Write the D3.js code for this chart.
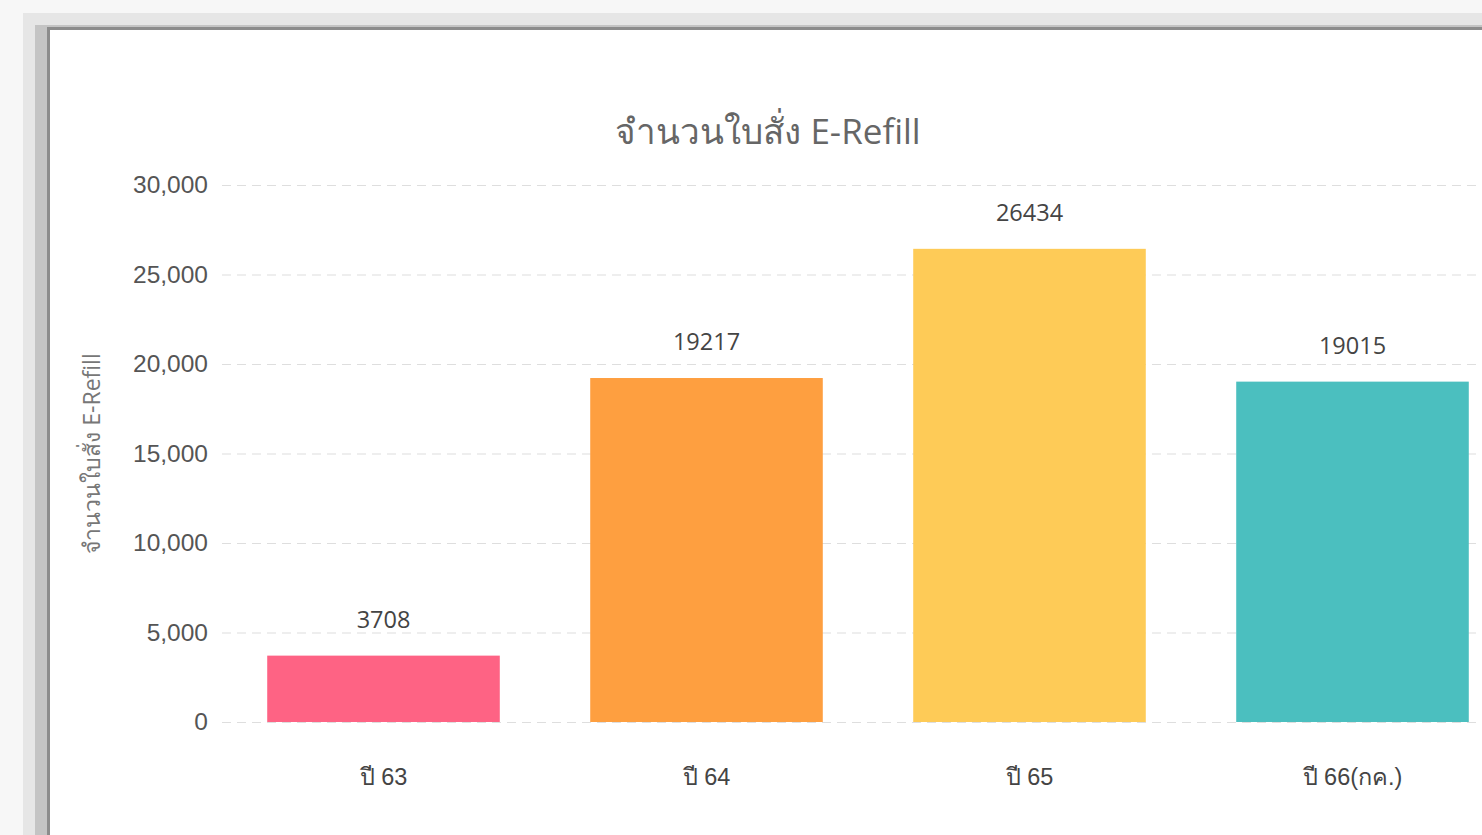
<!DOCTYPE html>
<html>
<head>
<meta charset="utf-8">
<script src="https://cdn.jsdelivr.net/npm/d3@7"></script>
<style>
  html, body { margin: 0; padding: 0; background: #f7f7f7; overflow: hidden; }
  svg { display: block; font-family: "Open Sans", "Noto Sans", sans-serif; }
</style>
</head>
<body>
<svg id="chart"></svg>
<script>
// Chart data
const categories = ["ปี 63", "ปี 64", "ปี 65", "ปี 66(กค.)"];
const values = [3708, 19217, 26434, 19015];
const barColors = ["#fe6384", "#fe9f40", "#fecb57", "#4bbfbf"];
const yTicks = [0, 5000, 10000, 15000, 20000, 25000, 30000];
const chartTitle = "จำนวนใบสั่ง E-Refill";
const yTitle = "จำนวนใบสั่ง E-Refill";

const width = 1482;
const height = 835;
const margin = { top: 185, right: -32, bottom: 113, left: 222 };

const svg = d3.select("#chart")
  .attr("width", width)
  .attr("height", height);

// window frame around the chart panel
svg.append("rect").attr("x", 23).attr("y", 13).attr("width", width).attr("height", height).attr("fill", "#e6e6e6");
svg.append("rect").attr("x", 35).attr("y", 25).attr("width", width).attr("height", height).attr("fill", "#c4c4c4");
svg.append("rect").attr("x", 47).attr("y", 27).attr("width", width).attr("height", height).attr("fill", "#8c8c8c");
svg.append("rect").attr("x", 50).attr("y", 30).attr("width", width).attr("height", height).attr("fill", "#ffffff");

// X scale - categories
const x = d3.scaleBand()
  .domain(categories)
  .range([margin.left, width - margin.right])
  .paddingInner(0.28)
  .paddingOuter(0.14);

// Y scale
const y = d3.scaleLinear()
  .domain([0, 30000])
  .range([height - margin.bottom, margin.top]);

// Grid lines + y tick labels
const yAxis = svg.append("g")
  .attr("transform", `translate(${margin.left},0)`)
  .call(d3.axisLeft(y)
    .tickValues(yTicks)
    .tickFormat(d3.format(","))
    .tickSize(-(width - margin.left + 10))
    .tickPadding(14));
yAxis.select(".domain").remove();
yAxis.selectAll(".tick line")
  .attr("stroke", "#dedede")
  .attr("stroke-width", 1.2)
  .attr("stroke-dasharray", "9,6");
yAxis.selectAll(".tick text")
  .attr("font-size", 24.5)
  .attr("fill", "#555");

// Bars
svg.selectAll("rect.bar")
  .data(values)
  .enter()
  .append("rect")
  .attr("class", "bar")
  .attr("x", (d, i) => x(categories[i]))
  .attr("y", d => y(d))
  .attr("width", x.bandwidth())
  .attr("height", d => y(0) - y(d))
  .attr("fill", (d, i) => barColors[i]);

// Value labels
svg.selectAll("text.val")
  .data(values)
  .enter()
  .append("text")
  .attr("class", "val")
  .attr("x", (d, i) => x(categories[i]) + x.bandwidth() / 2)
  .attr("y", d => y(d) - 36)
  .attr("dy", "0.35em")
  .attr("text-anchor", "middle")
  .attr("font-size", 23.5)
  .attr("fill", "#444")
  .text(d => d);

// X axis labels
const xAxis = svg.append("g")
  .attr("transform", `translate(0,${height - margin.bottom})`)
  .call(d3.axisBottom(x).tickSize(0).tickPadding(46));
xAxis.select(".domain").remove();
xAxis.selectAll(".tick text")
  .attr("font-size", 23.5)
  .attr("fill", "#444");

// Chart title
svg.append("text")
  .attr("x", 768)
  .attr("y", 132)
  .attr("dy", "0.35em")
  .attr("text-anchor", "middle")
  .attr("font-size", 35)
  .attr("fill", "#666")
  .text(chartTitle);

// Y axis title
svg.append("text")
  .attr("transform", `translate(92,${(y(0) + y(30000)) / 2}) rotate(-90)`)
  .attr("dy", "0.35em")
  .attr("text-anchor", "middle")
  .attr("font-size", 23)
  .attr("fill", "#777")
  .text(yTitle);
</script>
</body>
</html>
